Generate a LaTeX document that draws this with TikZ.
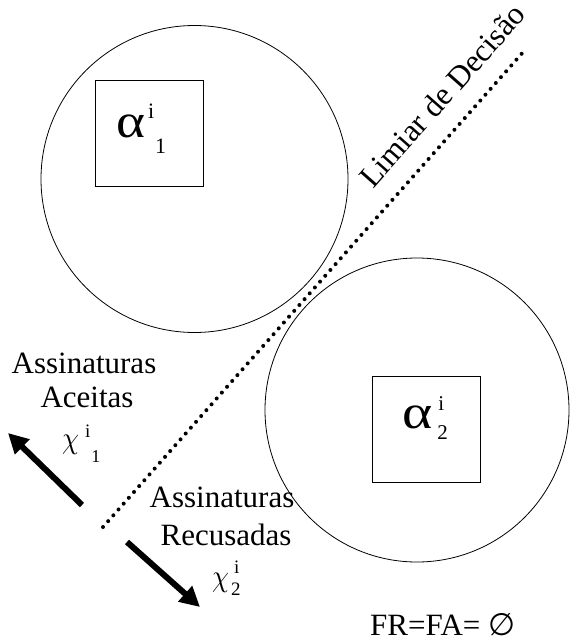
\documentclass[tikz,border=0pt]{standalone}
\usepackage{fontspec}
\setmainfont{Liberation Serif}
\newfontfamily\symfnt{DejaVu Sans}
\usetikzlibrary{arrows.meta}
\begin{document}
\begin{tikzpicture}[x=1pt,y=-1pt,
  region/.style={draw, circle, line width=0.8pt, inner sep=0},
  proto/.style={draw, line width=0.8pt, minimum width=108pt, minimum height=106pt, inner sep=0},
  lbl/.style={font=\fontsize{31}{34}\selectfont, inner sep=0, anchor=base},
  sym/.style={inner sep=0, anchor=base west},
  bigarrow/.style={line width=6pt, -{Triangle[length=20pt,width=20pt]}},
  threshold/.style={line width=4pt, line cap=round, dash pattern=on 0pt off 7.8pt}]
\useasboundingbox (0,0) rectangle (570,643);

% regions
\node[region, minimum size=307pt] (c1) at (194.5,179) {};
\node[region, minimum size=304pt] (c2) at (417,410) {};

% prototype boxes
\node[proto] (b1) at (149,133) {};
\node[proto] (b2) at (426,429) {};
\node[sym] (s1) at (116,137) {\fontsize{48}{48}\selectfont\scalebox{1.15}[1]{α}\kern3pt\raisebox{19pt}{\fontsize{22}{22}\selectfont i}\kern1pt\raisebox{-16pt}{\fontsize{22}{22}\selectfont 1}};
\node[sym] (s2) at (402,428) {\fontsize{48}{48}\selectfont\scalebox{1.2}[1]{α}\rlap{\kern6pt\raisebox{18pt}{\fontsize{21}{21}\selectfont i}}\kern5pt\raisebox{-11pt}{\fontsize{21}{21}\selectfont 2}};

% decision threshold
\coordinate (t0) at (103,527);
\coordinate (t1) at (525,50);
\draw[threshold] (t0) -- (t1);
\node[font=\fontsize{31.5}{31.5}\selectfont, rotate=48.5, anchor=base west, inner sep=0] (lim) at (373,190) {Limiar de Decisão};

% accepted
\node[lbl] (acc1) at (84,373) {Assinaturas};
\node[lbl] (acc2) at (87,407) {Aceitas};
\node[sym] (x1) at (62,448) {\scalebox{2.7}[3.1]{$\chi$}\kern6pt\raisebox{11pt}{\fontsize{19}{19}\selectfont i}\kern1pt\raisebox{-14pt}{\fontsize{18}{18}\selectfont 1}};
\coordinate (a1s) at (82,505);
\coordinate (a1e) at (8,433);
\draw[bigarrow] (a1s) -- (a1e);

% rejected
\node[lbl] (rej1) at (222,507) {Assinaturas};
\node[lbl] (rej2) at (226,545) {Recusadas};
\node[sym] (x2) at (212,586) {\scalebox{2.7}[3.1]{$\chi$}\rlap{\kern5pt\raisebox{13pt}{\fontsize{19}{19}\selectfont i}}\kern2pt\raisebox{-9pt}{\fontsize{19}{19}\selectfont 2}};
\coordinate (a2s) at (127,542);
\coordinate (a2e) at (200,607);
\draw[bigarrow] (a2s) -- (a2e);

% result
\node[sym] (res) at (370,635) {\fontsize{31}{31}\selectfont FR=FA= {\symfnt ∅}};
\end{tikzpicture}
\end{document}
